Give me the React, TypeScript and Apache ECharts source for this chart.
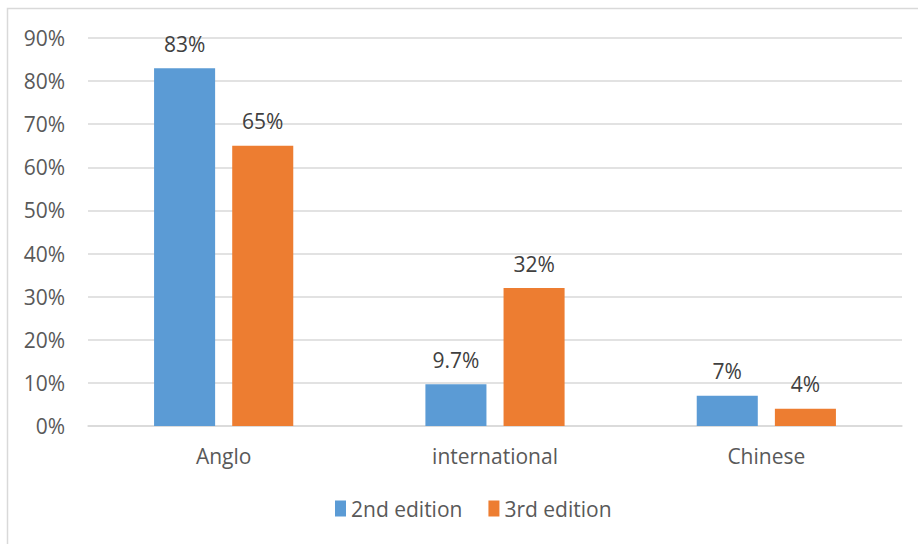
import React, { useEffect, useRef } from "react";
import * as echarts from "echarts";

const categories = ["Anglo", "international", "Chinese"];
const secondEdition = [83, 9.7, 7];
const thirdEdition = [65, 32, 4];
const seriesNames = ["2nd edition", "3rd edition"];
const yTicks = [0, 10, 20, 30, 40, 50, 60, 70, 80, 90];

const FONT = "'Open Sans', sans-serif";
const FS = 21;

export default function App() {
  const ref = useRef<HTMLDivElement>(null);

  useEffect(() => {
    if (!ref.current) return;
    const chart = echarts.init(ref.current, undefined, { renderer: "svg" });
    const valueLabel = {
      show: true,
      position: "top" as const,
      distance: 14,
      color: "#404040",
      fontSize: FS,
      fontFamily: FONT,
      formatter: (p: any) => `${p.value}%`,
    };
    chart.setOption({
      animation: false,
      backgroundColor: "#ffffff",
      textStyle: { fontFamily: FONT },
      graphic: [
        {
          type: "rect",
          shape: { x: 7.5, y: 8.5, width: 1000, height: 1000 },
          style: { fill: "none", stroke: "#d9d9d9", lineWidth: 1.5 },
          silent: true,
        },
      ],
      grid: { left: 88, right: 16, top: 38, bottom: 118, containLabel: false },
      legend: {
        data: seriesNames,
        left: 330,
        top: 493,
        icon: "rect",
        itemWidth: 11,
        itemHeight: 16,
        itemGap: 26,
        textStyle: { fontSize: FS, color: "#595959", fontFamily: FONT },
      },
      xAxis: {
        type: "category",
        data: categories,
        axisLine: { show: true, lineStyle: { color: "#d9d9d9", width: 1.5 } },
        axisTick: { show: false },
        axisLabel: { color: "#595959", fontSize: FS, fontFamily: FONT, margin: 19 },
      },
      yAxis: {
        type: "value",
        min: yTicks[0],
        max: yTicks[yTicks.length - 1],
        interval: 10,
        axisLine: { show: false },
        axisTick: { show: false },
        splitLine: { lineStyle: { color: "#d9d9d9", width: 1.5 } },
        axisLabel: {
          color: "#595959",
          fontSize: FS,
          fontFamily: FONT,
          margin: 23,
          formatter: (v: number) => `${v}%`,
        },
      },
      series: [
        {
          name: seriesNames[0],
          type: "bar",
          data: secondEdition,
          barWidth: "22.5%",
          barGap: "28%",
          itemStyle: { color: "#5b9bd5" },
          label: valueLabel,
        },
        {
          name: seriesNames[1],
          type: "bar",
          data: thirdEdition,
          barWidth: "22.5%",
          barGap: "28%",
          itemStyle: { color: "#ed7d31" },
          label: valueLabel,
        },
      ],
    });
    return () => chart.dispose();
  }, []);

  return (
    <div
      ref={ref}
      style={{ position: "fixed", left: 0, top: 0, width: 918, height: 544 }}
    />
  );
}
